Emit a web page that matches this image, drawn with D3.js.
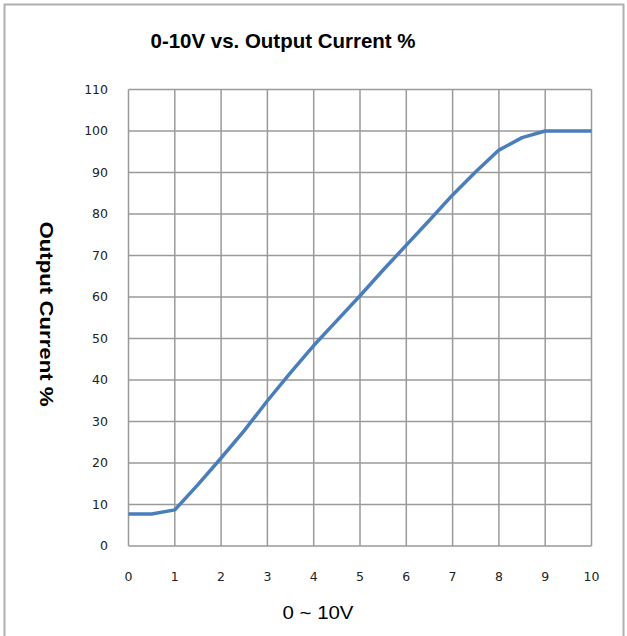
<!DOCTYPE html>
<html>
<head>
<meta charset="utf-8">
<script src="https://cdn.jsdelivr.net/npm/d3@7"></script>
<style>
  body { margin: 0; background: #fff; }
</style>
</head>
<body>
<svg id="chart"></svg>
<script>
// voltage (V) vs output current (%)
var volts = [0, 0.5, 1, 1.5, 2, 2.5, 3, 3.5, 4, 4.5, 5, 5.5, 6, 6.5, 7, 7.5, 8, 8.5, 9, 9.5, 10];
var current = [7.7, 7.7, 8.7, 14.8, 21.2, 27.8, 35, 41.8, 48.3, 54.3, 60.3, 66.5, 72.5, 78.5, 84.6, 90.2, 95.4, 98.4, 100, 100, 100];
var xTicks = [0, 1, 2, 3, 4, 5, 6, 7, 8, 9, 10];
var yTicks = [0, 10, 20, 30, 40, 50, 60, 70, 80, 90, 100, 110];

var titleFont = "'Liberation Sans', Arial, sans-serif";
var tickFont = "'DejaVu Sans', Verdana, sans-serif";

var svg = d3.select("#chart")
  .attr("width", 627)
  .attr("height", 636);

// outer frame (cropped at right/bottom)
svg.append("path")
  .attr("d", "M4.5,640 V4.5 H623.5 V640")
  .attr("fill", "none")
  .attr("stroke", "#b0b0b0")
  .attr("stroke-width", 2);

var x = d3.scaleLinear().domain([0, 10]).range([128.5, 591.5]);
var y = d3.scaleLinear().domain([0, 110]).range([546, 89.5]);

// grid
svg.append("g").selectAll("line")
  .data(xTicks)
  .join("line")
  .attr("x1", d => x(d)).attr("x2", d => x(d))
  .attr("y1", y(0)).attr("y2", y(110))
  .attr("stroke", "#9a9a9a")
  .attr("stroke-width", 1.5);

svg.append("g").selectAll("line")
  .data(yTicks)
  .join("line")
  .attr("x1", x(0)).attr("x2", x(10))
  .attr("y1", d => y(d)).attr("y2", d => y(d))
  .attr("stroke", "#9a9a9a")
  .attr("stroke-width", 1.5);

// tick labels
svg.append("g").selectAll("text")
  .data(yTicks)
  .join("text")
  .attr("x", 108)
  .attr("y", d => y(d))
  .attr("dy", "0.35em")
  .attr("text-anchor", "end")
  .style("font-family", tickFont)
  .style("font-size", "12.5px")
  .attr("fill", "#222")
  .text(d => d);

svg.append("g").selectAll("text")
  .data(xTicks)
  .join("text")
  .attr("x", d => x(d))
  .attr("y", 577)
  .attr("dy", "0.35em")
  .attr("text-anchor", "middle")
  .style("font-family", tickFont)
  .style("font-size", "12.5px")
  .attr("fill", "#222")
  .text(d => d);

// the curve
var line = d3.line()
  .x((d, i) => x(volts[i]))
  .y(d => y(d));

svg.append("path")
  .datum(current)
  .attr("d", line)
  .attr("fill", "none")
  .attr("stroke", "#4a7ebb")
  .attr("stroke-width", 3.5)
  .attr("stroke-linejoin", "round");

// titles
svg.append("text")
  .attr("x", 283)
  .attr("y", 48)
  .attr("text-anchor", "middle")
  .style("font-family", titleFont)
  .style("font-size", "21px")
  .style("font-weight", "bold")
  .attr("fill", "#000")
  .attr("textLength", 265)
  .attr("lengthAdjust", "spacingAndGlyphs")
  .text("0-10V  vs. Output Current %");

svg.append("text")
  .attr("transform", "translate(40,314) rotate(90)")
  .attr("text-anchor", "middle")
  .style("font-family", titleFont)
  .style("font-size", "19px")
  .style("font-weight", "bold")
  .attr("fill", "#000")
  .attr("textLength", 185)
  .attr("lengthAdjust", "spacingAndGlyphs")
  .text("Output Current %");

svg.append("text")
  .attr("x", 318)
  .attr("y", 619)
  .attr("text-anchor", "middle")
  .style("font-family", titleFont)
  .style("font-size", "19px")
  .attr("fill", "#000")
  .attr("textLength", 71)
  .attr("lengthAdjust", "spacingAndGlyphs")
  .text("0 ~ 10V");
</script>
</body>
</html>
